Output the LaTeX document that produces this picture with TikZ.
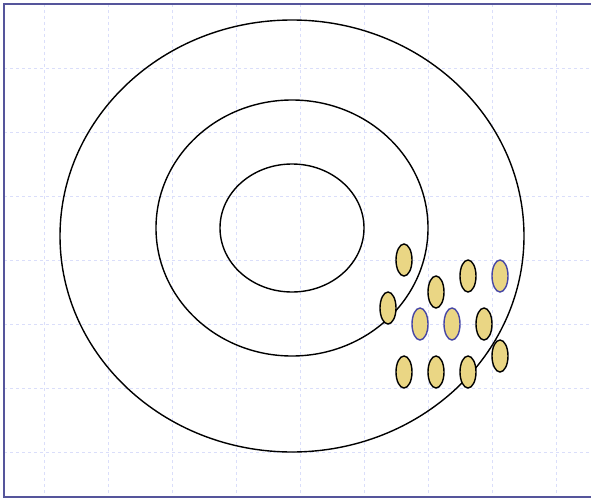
\documentclass[tikz,border=0pt]{standalone}
\usetikzlibrary{shapes.geometric}
\definecolor{gridc}{RGB}{218,222,250}
\definecolor{framec}{RGB}{85,85,155}
\definecolor{dotfill}{RGB}{234,214,132}
\definecolor{bluec}{RGB}{70,70,165}
\begin{document}
\begin{tikzpicture}[x=1pt,y=-1pt,
  ring/.style={draw=black,line width=1.4pt,ellipse,inner sep=0pt},
  dot/.style={draw=black,line width=1.4pt,fill=dotfill,ellipse,inner sep=0pt,minimum width=16pt,minimum height=32pt},
  bdot/.style={dot,draw=bluec},
  gridline/.style={draw=gridc,dashed,line width=0.8pt}]
\useasboundingbox (0,0) rectangle (591,500);
\foreach \x in {44,108,...,556} \draw[gridline] (\x,4) -- (\x,497);
\foreach \y in {68,132,...,452} \draw[gridline] (4,\y) -- (591,\y);
\draw[framec,line width=1.5pt] (594,4) -- (4,4) -- (4,497) -- (594,497);
\node[ring,minimum width=464pt,minimum height=432pt] (outer) at (292,236) {};
\node[ring,minimum width=272pt,minimum height=256pt] (middle) at (292,228) {};
\node[ring,minimum width=144pt,minimum height=128pt] (inner) at (292,228) {};
\node[dot] (d1) at (404,260) {};
\node[dot] (d2) at (436,292) {};
\node[dot] (d3) at (468,276) {};
\node[bdot] (d4) at (500,276) {};
\node[dot] (d5) at (388,308) {};
\node[bdot] (d6) at (420,324) {};
\node[bdot] (d7) at (452,324) {};
\node[dot] (d8) at (484,324) {};
\node[dot] (d9) at (500,356) {};
\node[dot] (d10) at (404,372) {};
\node[dot] (d11) at (436,372) {};
\node[dot] (d12) at (468,372) {};
\end{tikzpicture}
\end{document}
